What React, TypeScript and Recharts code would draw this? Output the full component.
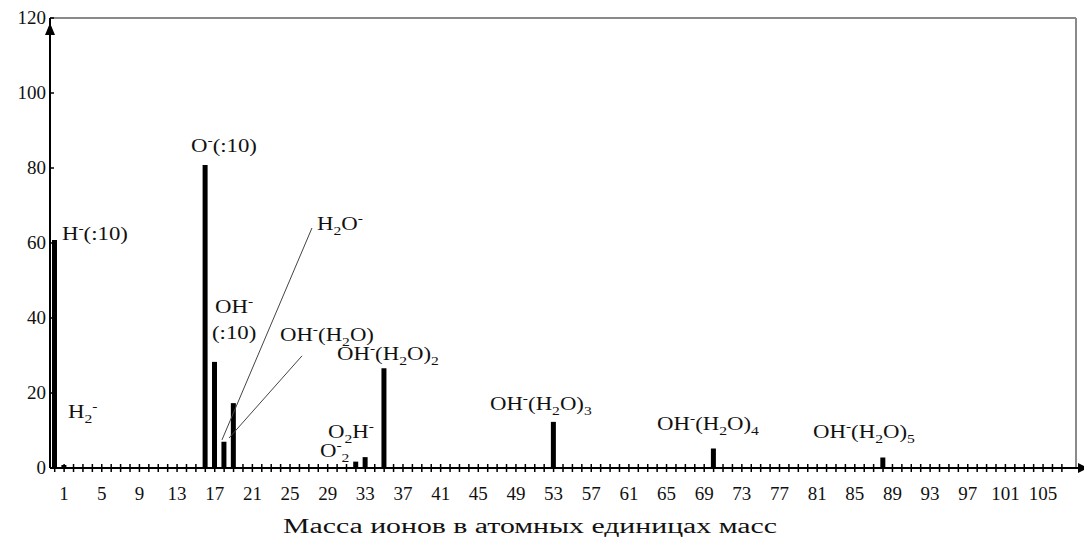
import React from "react";
import { BarChart, Bar, XAxis, YAxis, ReferenceLine, ReferenceDot } from "recharts";

// пики масс-спектра (масса, интенсивность)
const peakMass = [0, 1, 16, 17, 18, 19, 32, 33, 35, 53, 70, 88];
const peakValue = [60.8, 0.8, 80.8, 28.3, 7.0, 17.3, 1.7, 2.9, 26.6, 12.3, 5.2, 2.8];

const labeledMass = [1, 5, 9, 13, 17, 21, 25, 29, 33, 37, 41, 45, 49, 53, 57, 61, 65, 69, 73, 77, 81, 85, 89, 93, 97, 101, 105];
const yTicks = [0, 20, 40, 60, 80, 100, 120];
const lastMass = 107;
const allMasses = Array.from({ length: lastMass + 1 }, (_, i) => i);

type Part = { t: string; k?: "sup" | "sub" };

// подписи ионов: левый край и базовая линия в координатах данных
const noteX = [0.77, 1.41, 14.48, 27.86, 17.03, 16.71, 23.93, 29.99, 29.03, 28.18, 46.24, 63.99, 80.56];
const noteY = [60.8, 13.3, 84.3, 63.5, 41.3, 34.4, 34.0, 28.8, 8.0, 2.9, 15.5, 10.1, 8.0];
const noteParts: Part[][] = [
  [{ t: "H" }, { t: "-", k: "sup" }, { t: "(:10)" }],
  [{ t: "H" }, { t: "2", k: "sub" }, { t: "-", k: "sup" }],
  [{ t: "O" }, { t: "-", k: "sup" }, { t: "(:10)" }],
  [{ t: "H" }, { t: "2", k: "sub" }, { t: "O" }, { t: "-", k: "sup" }],
  [{ t: "OH" }, { t: "-", k: "sup" }],
  [{ t: "(:10)" }],
  [{ t: "OH" }, { t: "-", k: "sup" }, { t: "(H" }, { t: "2", k: "sub" }, { t: "O)" }],
  [{ t: "OH" }, { t: "-", k: "sup" }, { t: "(H" }, { t: "2", k: "sub" }, { t: "O)" }, { t: "2", k: "sub" }],
  [{ t: "O" }, { t: "2", k: "sub" }, { t: "H" }, { t: "-", k: "sup" }],
  [{ t: "O" }, { t: "-", k: "sup" }, { t: "2", k: "sub" }],
  [{ t: "OH" }, { t: "-", k: "sup" }, { t: "(H" }, { t: "2", k: "sub" }, { t: "O)" }, { t: "3", k: "sub" }],
  [{ t: "OH" }, { t: "-", k: "sup" }, { t: "(H" }, { t: "2", k: "sub" }, { t: "O)" }, { t: "4", k: "sub" }],
  [{ t: "OH" }, { t: "-", k: "sup" }, { t: "(H" }, { t: "2", k: "sub" }, { t: "O)" }, { t: "5", k: "sub" }],
];

// выноски к пикам 18 и 19
const leaderFrom = [{ x: 27.33, y: 64.0 }, { x: 26.27, y: 29.9 }];
const leaderTo = [{ x: 17.77, y: 7.5 }, { x: 18.52, y: 8.0 }];

const serif = "'Liberation Serif', 'Times New Roman', serif";
const ink = "#111";

const data = peakMass.map((m, i) => ({ mass: m, value: peakValue[i] }));

function Formula({ cx, cy, parts }: { cx: number; cy: number; parts: Part[] }) {
  let shift = 0;
  const spans = parts.map((p, i) => {
    const target = p.k === "sup" ? -8 : p.k === "sub" ? 5 : 0;
    const dy = target - shift;
    shift = target;
    return (
      <tspan key={i} dy={dy} fontSize={p.k ? 13 : 19}>
        {p.t}
      </tspan>
    );
  });
  return (
    <g transform={`translate(${cx},${cy}) scale(1.2,1)`}>
      <text x={0} y={0} fontFamily={serif} fill={ink}>
        {spans}
      </text>
    </g>
  );
}

function XTick({ x, y, payload }: any) {
  const v = payload.value;
  return (
    <g>
      <line x1={x} x2={x} y1={y - 4} y2={y + 4} stroke="#000" strokeWidth={1.5} />
      {labeledMass.includes(v) ? (
        <text x={x} y={y + 32} textAnchor="middle" fontFamily={serif} fontSize={19} fill={ink}>
          {v}
        </text>
      ) : null}
    </g>
  );
}

function YTick({ x, y, payload }: any) {
  return (
    <g>
      <line x1={x} x2={x + 4} y1={y} y2={y} stroke="#000" strokeWidth={1.5} />
      <text x={x - 4} y={y + 6} textAnchor="end" fontFamily={serif} fontSize={19} fill={ink}>
        {payload.value}
      </text>
    </g>
  );
}

function AxisTitle({ viewBox }: any) {
  return (
    <text
      x={viewBox.x + 233}
      y={viewBox.y + 65}
      fontFamily={serif}
      fontSize={20}
      fill={ink}
      textLength={494}
      lengthAdjust="spacingAndGlyphs"
    >
      Масса ионов в атомных единицах масс
    </text>
  );
}

export default function App() {
  return (
    <div style={{ position: "absolute", left: 0, top: 0, width: 1084, height: 537, background: "#fff" }}>
      <BarChart width={1084} height={537} data={data} margin={{ top: 18, right: 8, left: 0, bottom: 0 }}>
        <XAxis
          dataKey="mass"
          type="number"
          domain={[-0.5, lastMass + 1.5]}
          ticks={allMasses}
          interval={0}
          height={69}
          tickSize={0}
          tickMargin={0}
          tick={<XTick />}
          axisLine={{ stroke: "#000", strokeWidth: 2 }}
          label={<AxisTitle />}
        />
        <YAxis
          type="number"
          domain={[0, 120]}
          ticks={yTicks}
          width={50}
          tickSize={0}
          tickMargin={0}
          tick={<YTick />}
          axisLine={{ stroke: "#000", strokeWidth: 2 }}
        />
        <ReferenceLine y={120} stroke="#8a8a8a" strokeWidth={2} ifOverflow="visible" />
        <ReferenceLine x={lastMass + 1.5} stroke="#8a8a8a" strokeWidth={2} ifOverflow="visible" />
        <Bar dataKey="value" fill="#000" barSize={5} isAnimationActive={false} />
        {leaderFrom.map((p, i) => (
          <ReferenceLine
            key={`lead-${i}`}
            segment={[p, leaderTo[i]]}
            stroke="#444"
            strokeWidth={1}
            ifOverflow="visible"
          />
        ))}
        {noteParts.map((parts, i) => (
          <ReferenceDot
            key={`note-${i}`}
            x={noteX[i]}
            y={noteY[i]}
            r={0}
            ifOverflow="visible"
            shape={(props: any) => <Formula cx={props.cx} cy={props.cy} parts={parts} />}
          />
        ))}
        <ReferenceDot
          x={-0.5}
          y={120}
          r={0}
          ifOverflow="visible"
          shape={(p: any) => (
            <polygon points={`${p.cx},${p.cy + 5} ${p.cx - 5},${p.cy + 17} ${p.cx + 5},${p.cy + 17}`} fill="#000" />
          )}
        />
        <ReferenceDot
          x={lastMass + 1.5}
          y={0}
          r={0}
          ifOverflow="visible"
          shape={(p: any) => (
            <g>
              <line x1={p.cx} x2={p.cx + 3} y1={p.cy} y2={p.cy} stroke="#000" strokeWidth={2} />
              <polygon points={`${p.cx + 2},${p.cy - 5} ${p.cx + 2},${p.cy + 5} ${p.cx + 12},${p.cy}`} fill="#000" />
            </g>
          )}
        />
      </BarChart>
    </div>
  );
}
